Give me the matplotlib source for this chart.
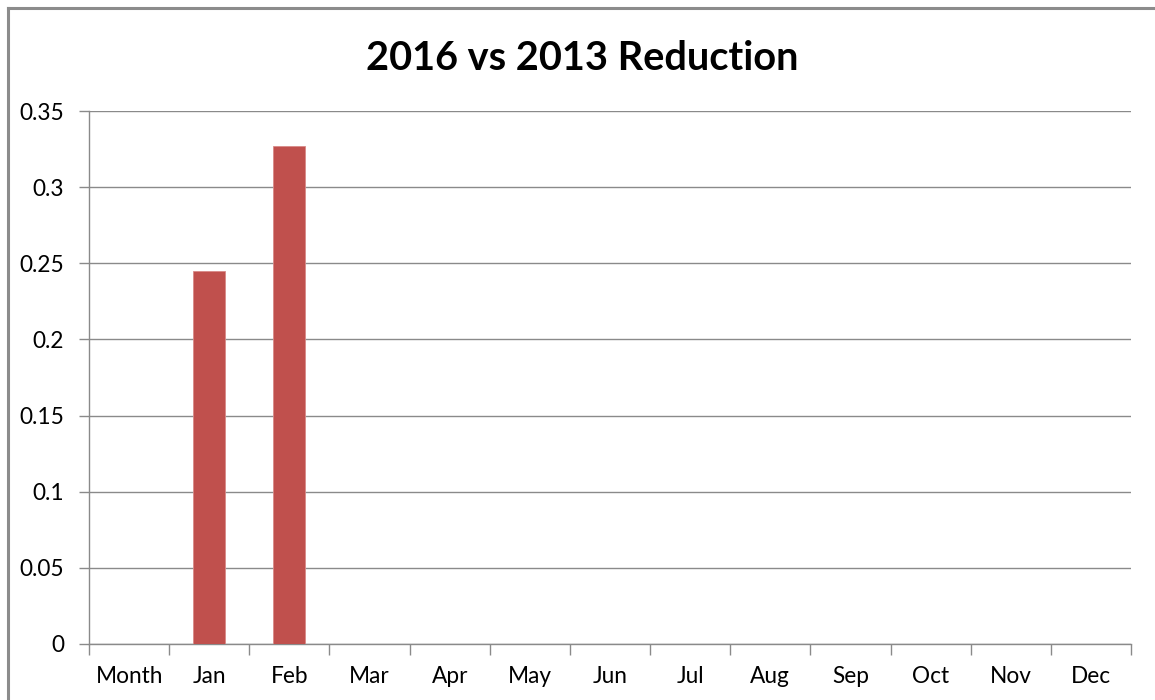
import matplotlib
matplotlib.use("Agg")
import matplotlib.pyplot as plt
from matplotlib.lines import Line2D

categories = ["Month", "Jan", "Feb", "Mar", "Apr", "May", "Jun",
              "Jul", "Aug", "Sep", "Oct", "Nov", "Dec"]
reduction = [0, 0.245, 0.327, 0, 0, 0, 0, 0, 0, 0, 0, 0, 0]
y_ticks = [0, 0.05, 0.1, 0.15, 0.2, 0.25, 0.3, 0.35]
y_labels = ["0", "0.05", "0.1", "0.15", "0.2", "0.25", "0.3", "0.35"]
title = "2016 vs 2013 Reduction"

plt.rcParams["font.family"] = ["Lato", "DejaVu Sans"]

W, H = 1155, 700
fig = plt.figure(figsize=(W / 100, H / 100), dpi=100)
fig.patch.set_facecolor("white")

# chart frame (left and top edges visible)
frame_col = "#8c8c8c"
fig.add_artist(Line2D([7.5 / W, 7.5 / W], [0, 1 - 7.5 / H], color=frame_col, lw=2.2,
                      transform=fig.transFigure))
fig.add_artist(Line2D([7.5 / W, 1], [1 - 7.5 / H, 1 - 7.5 / H], color=frame_col, lw=2.2,
                      transform=fig.transFigure))

left, right, top, bottom = 89, 1131, 111, 644
ax = fig.add_axes([left / W, 1 - bottom / H, (right - left) / W, (bottom - top) / H])

x = list(range(len(categories)))
ax.bar([i for i, v in zip(x, reduction) if v > 0],
       [v for v in reduction if v > 0], width=0.4, color="#C0504D",
       edgecolor="#d88a88", linewidth=0.6, zorder=3)

ax.set_xlim(-0.5, len(categories) - 0.5)
ax.set_ylim(0, 0.35)
ax.set_yticks(y_ticks)
ax.set_yticklabels(y_labels)
ax.yaxis.grid(True, color="#8a8a8a", linewidth=1.0, zorder=0)
ax.set_axisbelow(True)

ax.set_xticks([i - 0.5 for i in range(len(categories) + 1)], minor=False)
ax.set_xticklabels([])
ax.set_xticks(x, minor=True)
ax.set_xticklabels(categories, minor=True)
ax.tick_params(axis="x", which="major", direction="out", length=8, width=1, color="#8a8a8a")
ax.tick_params(axis="x", which="minor", length=0, pad=16, labelsize=16.3, labelcolor="#000000")
ax.tick_params(axis="y", direction="out", length=7, width=1, color="#8a8a8a",
               labelsize=16.3, labelcolor="#000000", pad=11)

for s in ["top", "right"]:
    ax.spines[s].set_visible(False)
for s in ["left", "bottom"]:
    ax.spines[s].set_color("#8a8a8a")
    ax.spines[s].set_linewidth(1.0)

fig.text(582 / W, 1 - 58 / H, title, ha="center", va="center",
         fontsize=28.6, fontweight="bold", color="#000000")

fig.savefig("out.png", dpi=100, facecolor="white")
